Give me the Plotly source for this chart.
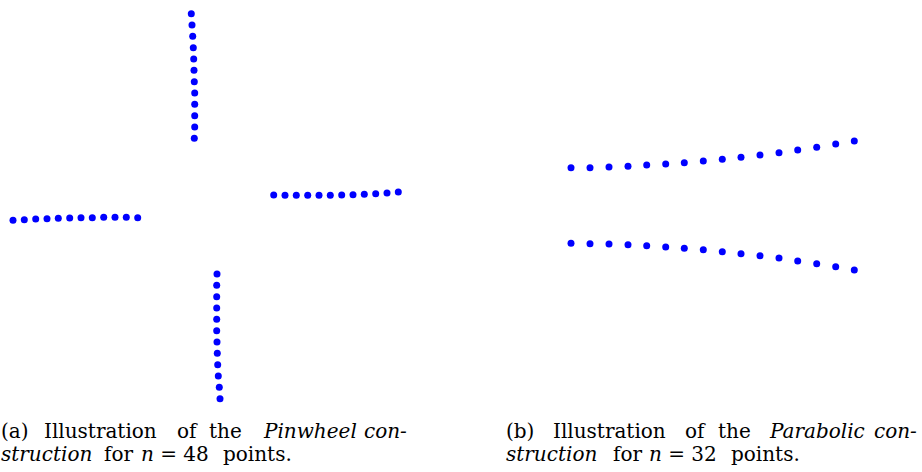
import plotly.graph_objects as go

# ---- Panel (a): Pinwheel construction, n = 48 (4 arms x 12 points) ----
top_x = [191.3, 192.0, 192.7, 193.3, 193.7, 194.0, 194.3, 194.7, 194.7, 194.7, 194.7, 194.3]
top_y = [13.7, 25.0, 36.3, 47.7, 59.0, 70.3, 81.7, 93.0, 104.3, 115.7, 127.0, 138.3]

right_x = [273.7, 285.0, 296.3, 307.7, 319.0, 330.3, 341.7, 353.0, 364.3, 375.7, 387.0, 398.3]
right_y = [195.0, 195.3, 195.3, 195.3, 195.3, 195.3, 195.0, 194.7, 194.3, 193.7, 193.0, 192.0]

left_x = [13.0, 24.3, 35.7, 47.0, 58.3, 69.7, 81.0, 92.3, 103.7, 115.0, 126.3, 137.7]
left_y = [220.3, 219.7, 219.0, 218.7, 218.3, 218.0, 217.7, 217.7, 217.3, 217.3, 217.3, 217.7]

bottom_x = [217.0, 216.7, 216.7, 216.7, 216.7, 216.7, 217.0, 217.3, 217.7, 218.3, 219.3, 220.0]
bottom_y = [274.0, 285.3, 296.7, 308.0, 319.3, 330.7, 342.0, 353.3, 364.7, 376.0, 387.3, 398.7]

# ---- Panel (b): Parabolic construction, n = 32 (2 branches x 16 points) ----
para_x = [571.0, 590.0, 609.0, 628.0, 646.7, 665.7, 684.3, 703.3,
          722.3, 741.0, 760.0, 779.0, 797.7, 816.7, 835.7, 854.3]
upper_y = [167.7, 167.7, 167.0, 166.3, 165.0, 164.0, 162.7, 161.0,
           159.3, 157.3, 155.0, 152.7, 150.0, 147.3, 144.0, 141.0]
lower_y = [243.3, 243.7, 244.0, 244.7, 245.7, 247.0, 248.3, 249.7,
           251.7, 253.7, 255.7, 258.0, 261.0, 263.7, 266.7, 270.0]

# ---- Caption words (text, left edge, line) ----
caption_a = [("(a)", 0, 1), ("Illustration", 43, 1), ("of", 176, 1), ("the", 208, 1),
             ("<i>Pinwheel</i>", 262, 1), ("<i>con-</i>", 363, 1),
             ("<i>struction</i>", 0, 2), ("for", 103, 2), ("<i>n</i> = 48", 140, 2), ("points.", 222, 2)]
caption_b = [("(b)", 505, 1), ("Illustration", 552, 1), ("of", 684, 1), ("the", 717, 1),
             ("<i>Parabolic</i>", 768, 1), ("<i>con-</i>", 873, 1),
             ("<i>struction</i>", 505, 2), ("for", 612, 2), ("<i>n</i> = 32", 648, 2), ("points.", 730, 2)]

W, H = 922, 472
BLUE = "#0000ff"
marker = dict(color=BLUE, size=7)

fig = go.Figure()
for xs, ys in [(top_x, top_y), (right_x, right_y), (left_x, left_y), (bottom_x, bottom_y)]:
    fig.add_trace(go.Scatter(x=xs, y=ys, mode="markers", marker=marker,
                             xaxis="x", yaxis="y", showlegend=False, hoverinfo="skip"))
for ys in [upper_y, lower_y]:
    fig.add_trace(go.Scatter(x=para_x, y=ys, mode="markers", marker=marker,
                             xaxis="x2", yaxis="y2", showlegend=False, hoverinfo="skip"))

line_y = {1: 431, 2: 454}
annotations = []
for text, x0, ln in caption_a + caption_b:
    annotations.append(dict(text=text, x=x0 / W, y=1 - line_y[ln] / H,
                            xref="paper", yref="paper", xanchor="left", yanchor="middle",
                            showarrow=False, borderpad=0,
                            font=dict(family="DejaVu Serif", size=20, color="#000000")))

hidden = dict(visible=False, showgrid=False, zeroline=False)
fig.update_layout(
    width=W, height=H,
    margin=dict(l=0, r=0, t=0, b=0),
    paper_bgcolor="white", plot_bgcolor="white",
    xaxis=dict(domain=[0, 0.5], range=[0, W / 2], **hidden),
    yaxis=dict(domain=[0, 1], range=[H, 0], **hidden),
    xaxis2=dict(domain=[0.5, 1], range=[W / 2, W], **hidden),
    yaxis2=dict(domain=[0, 1], range=[H, 0], anchor="x2", **hidden),
    annotations=annotations,
)
fig.write_html("out.html", config={"displayModeBar": False},
               post_script="document.body.style.margin='0';document.body.style.overflow='hidden';")
